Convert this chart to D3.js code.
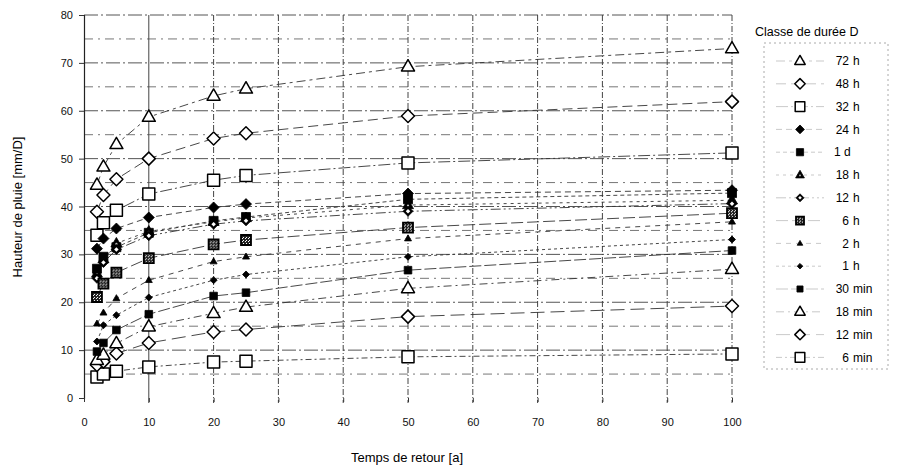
<!DOCTYPE html>
<html>
<head>
<meta charset="utf-8">
<script src="https://cdn.jsdelivr.net/npm/d3@7"></script>
<style>
  body { margin: 0; background: #fff; }
  svg { font-family: "Liberation Sans", Arial, sans-serif; }
</style>
</head>
<body>
<div id="chart"></div>
<script>
// return periods [a]
var returnPeriods = [2, 3, 5, 10, 20, 25, 50, 100];

// rainfall depth [mm/D] per duration class
var h72 = [44.5, 48.3, 53.0, 58.7, 63.1, 64.6, 69.2, 73.0];
var h48 = [38.9, 42.4, 45.7, 50.0, 54.2, 55.3, 58.9, 61.9];
var h32 = [34.0, 36.6, 39.2, 42.6, 45.5, 46.5, 49.1, 51.2];
var h24 = [31.2, 33.3, 35.4, 37.7, 39.8, 40.5, 42.7, 43.4];
var d1 = [27.0, 29.5, 31.5, 34.5, 37.0, 37.8, 41.5, 42.8];
var h18 = [26.0, 29.0, 32.3, 34.8, 36.8, 37.6, 40.3, 41.3];
var h12 = [25.0, 28.3, 31.0, 33.9, 36.3, 37.0, 39.0, 40.6];
var h6 = [21.1, 23.9, 26.2, 29.2, 32.1, 33.0, 35.6, 38.6];
var h2 = [15.5, 17.8, 20.8, 24.6, 28.5, 29.5, 33.3, 36.8];
var h1 = [11.8, 15.2, 17.3, 21.0, 24.6, 25.8, 29.5, 33.1];
var m30 = [9.7, 11.5, 14.2, 17.5, 21.3, 22.0, 26.7, 30.8];
var m18 = [7.9, 9.0, 11.4, 14.9, 17.7, 19.0, 22.9, 26.9];
var m12 = [6.9, 7.6, 9.3, 11.5, 13.8, 14.3, 17.0, 19.2];
var m6 = [4.4, 5.0, 5.6, 6.5, 7.5, 7.7, 8.6, 9.2];

var durationLabels = ["72 h", "48 h", "32 h", "24 h", "1 d", "18 h", "12 h", "6 h", "2 h", "1 h", "30 min", "18 min", "12 min", "6 min"];
var xTicks = [0, 10, 20, 30, 40, 50, 60, 70, 80, 90, 100];
var yTicks = [0, 10, 20, 30, 40, 50, 60, 70, 80];

var seriesValues = [h72, h48, h32, h24, d1, h18, h12, h6, h2, h1, m30, m18, m12, m6];

// marker look per series: shape, half size, style
var looks = [
  {shape: "tri", r: 6.5, style: "open"},
  {shape: "dia", r: 6.5, style: "open"},
  {shape: "sq", r: 6, style: "open"},
  {shape: "dia", r: 5.5, style: "filled"},
  {shape: "sq", r: 4.5, style: "filled"},
  {shape: "tri", r: 5.5, style: "speck"},
  {shape: "dia", r: 5, style: "dot"},
  {shape: "sq", r: 5, style: "hatch"},
  {shape: "tri", r: 3.5, style: "filled"},
  {shape: "dia", r: 3.5, style: "filled"},
  {shape: "sq", r: 3.8, style: "filled"},
  {shape: "tri", r: 6.5, style: "open"},
  {shape: "dia", r: 6.5, style: "open"},
  {shape: "sq", r: 6, style: "open"}
];
var dashes = ["9,4,3,4", "10,5", "12,3,2,3", "6,4", "4,3", "3,4", "10,3,2,3,2,3", "12,4", "5,5", "3,3", "12,3", "8,4,2,4", "14,6", "6,3,2,3"];

var width = 902, height = 473;
var svg = d3.select("#chart").append("svg")
  .attr("width", width)
  .attr("height", height);

var x = d3.scaleLinear().domain([0, 100]).range([84, 732]);
var y = d3.scaleLinear().domain([0, 80]).range([398, 15]);

var defs = svg.append("defs");
var pat = defs.append("pattern")
  .attr("id", "hatch")
  .attr("width", 3).attr("height", 3)
  .attr("patternUnits", "userSpaceOnUse");
pat.append("rect").attr("width", 3).attr("height", 3).attr("fill", "#222");
pat.append("rect").attr("width", 1).attr("height", 1).attr("fill", "#fff");
pat.append("rect").attr("x", 2).attr("y", 1).attr("width", 1).attr("height", 1).attr("fill", "#fff");

var shapePath = function(shape, r) {
  if (shape == "tri") {
    var h = r * 1.732;
    return "M0," + (-h * 0.62) + "L" + r + "," + (h * 0.38) + "L" + (-r) + "," + (h * 0.38) + "Z";
  }
  if (shape == "dia") {
    return "M0," + (-r) + "L" + r + ",0L0," + r + "L" + (-r) + ",0Z";
  }
  return "M" + (-r) + "," + (-r) + "H" + r + "V" + r + "H" + (-r) + "Z";
};

var drawMarker = function(g, look, scale) {
  var r = look.r * scale;
  var p = g.append("path").attr("d", shapePath(look.shape, r));
  if (look.style == "open") {
    p.attr("fill", "#fff").attr("stroke", "#000").attr("stroke-width", 1.5)
      .attr("stroke-linejoin", "round");
  } else if (look.style == "filled") {
    p.attr("fill", "#000").attr("stroke", "#000").attr("stroke-width", 0.8);
  } else if (look.style == "speck") {
    p.attr("fill", "#000").attr("stroke", "#000").attr("stroke-width", 0.8);
    g.append("circle").attr("cy", r * 0.1).attr("r", r * 0.2).attr("fill", "#bbb");
  } else if (look.style == "dot") {
    p.attr("fill", "#000").attr("stroke", "#000").attr("stroke-width", 0.8);
    g.append("path").attr("d", shapePath("dia", r * 0.45)).attr("fill", "#fff");
  } else if (look.style == "hatch") {
    p.attr("fill", "url(#hatch)").attr("stroke", "#000").attr("stroke-width", 1.8);
  }
};

// grid
var grid = svg.append("g");
d3.range(5, 81, 5).forEach(function(v) {
  grid.append("line")
    .attr("x1", x(0)).attr("x2", x(100))
    .attr("y1", y(v)).attr("y2", y(v))
    .attr("stroke", v % 10 == 0 ? "#555" : "#777")
    .attr("stroke-width", 1)
    .attr("stroke-dasharray", v % 10 == 0 ? "14,3,2,3" : "9,5,2,5");
});
xTicks.slice(1).forEach(function(t) {
  grid.append("line")
    .attr("x1", x(t)).attr("x2", x(t))
    .attr("y1", y(80)).attr("y2", y(0) + 5)
    .attr("stroke", "#444")
    .attr("stroke-width", 1)
    .attr("stroke-dasharray", t == 10 ? null : "6,2,1,2");
});

// axes
var yAxis = svg.append("g")
  .attr("transform", "translate(" + x(0) + ",0)")
  .call(d3.axisLeft(y).tickValues(yTicks).tickSize(5).tickPadding(6));
yAxis.select(".domain").attr("stroke", "#222").attr("stroke-width", 1.2);
var xAxis = svg.append("g")
  .attr("transform", "translate(0," + y(0) + ")")
  .call(d3.axisBottom(x).tickValues(xTicks).tickSize(4).tickPadding(16));
xAxis.select(".domain").remove();
svg.selectAll(".tick text")
  .attr("font-size", 11)
  .attr("font-family", "Liberation Sans, Arial, sans-serif")
  .attr("fill", "#111");
svg.selectAll(".tick line").attr("stroke", "#333");

svg.append("text")
  .attr("transform", "translate(19," + 207 + ") rotate(-90)")
  .attr("text-anchor", "middle")
  .attr("dominant-baseline", "middle")
  .attr("font-size", 13)
  .text("Hauteur de pluie [mm/D]");
svg.append("text")
  .attr("x", 407).attr("y", 462)
  .attr("text-anchor", "middle")
  .attr("font-size", 13)
  .text("Temps de retour [a]");

// series lines
var line = d3.line()
  .x(function(d) { return x(d[0]); })
  .y(function(d) { return y(d[1]); });

var lineLayer = svg.append("g");
var markLayer = svg.append("g");
seriesValues.forEach(function(vals, i) {
  var pts = returnPeriods.map(function(t, j) { return [t, vals[j]]; });
  lineLayer.append("path")
    .datum(pts)
    .attr("d", line)
    .attr("fill", "none")
    .attr("stroke", "#333")
    .attr("stroke-width", 0.9)
    .attr("stroke-dasharray", dashes[i]);
});
// draw small markers last so they stay visible in the clusters
var order = [0, 1, 2, 13, 12, 11, 3, 4, 5, 6, 7, 10, 9, 8];
order.forEach(function(i) {
  var vals = seriesValues[i];
  returnPeriods.forEach(function(t, j) {
    var g = markLayer.append("g")
      .attr("transform", "translate(" + x(t) + "," + y(vals[j]) + ")");
    drawMarker(g, looks[i], 1);
  });
});

// legend
var legend = svg.append("g");
legend.append("text")
  .attr("x", 755).attr("y", 36)
  .attr("font-size", 12.5)
  .text("Classe de durée D");
legend.append("rect")
  .attr("x", 764).attr("y", 43)
  .attr("width", 124).attr("height", 326)
  .attr("fill", "none")
  .attr("stroke", "#aaa")
  .attr("stroke-width", 1)
  .attr("stroke-dasharray", "2,3");

durationLabels.forEach(function(lab, i) {
  var ly = 61 + i * 22.8;
  legend.append("line")
    .attr("x1", 776).attr("x2", 824)
    .attr("y1", ly).attr("y2", ly)
    .attr("stroke", "#bbb")
    .attr("stroke-width", 0.8)
    .attr("stroke-dasharray", dashes[i]);
  var g = legend.append("g").attr("transform", "translate(800," + ly + ")");
  drawMarker(g, looks[i], 0.8);
  var parts = lab.split(" ");
  var t = legend.append("text")
    .attr("y", ly)
    .attr("dy", "0.35em")
    .attr("font-size", 12);
  if (lab == "1 d") {
    t.attr("x", 834).text(lab);
  } else {
    t.append("tspan").attr("x", 849).attr("text-anchor", "end").text(parts[0]);
    t.append("tspan").attr("x", 853).text(parts[1]);
  }
});
</script>
</body>
</html>
